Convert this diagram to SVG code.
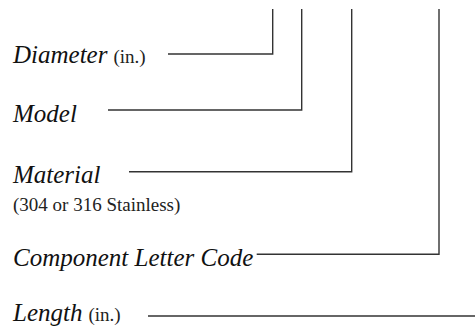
<svg xmlns="http://www.w3.org/2000/svg" width="475" height="333" viewBox="0 0 475 333">
  <style>
    .lbl { font-family: "Liberation Serif", "DejaVu Serif", serif; font-style: italic; font-size: 25px; fill: #111; }
    .sub { font-family: "Liberation Serif", "DejaVu Serif", serif; font-style: normal; font-size: 19px; fill: #222; }
    .lead { fill: none; stroke: #333; stroke-width: 1.4; }
  </style>
  <rect width="475" height="333" fill="#fff"/>

  <g id="diameter">
    <text class="lbl" x="13" y="62.7">Diameter<tspan class="sub" dx="6">(in.)</tspan></text>
  </g>
  <g id="model">
    <text class="lbl" x="13" y="122.3">Model</text>
  </g>
  <g id="material">
    <text class="lbl" x="13" y="182.7">Material</text>
    <text class="sub" x="13" y="210.7">(304 or 316 Stainless)</text>
  </g>
  <g id="component">
    <text class="lbl" x="13" y="265.5">Component Letter Code</text>
  </g>
  <g id="length">
    <text class="lbl" x="13" y="320.5">Length<tspan class="sub" dx="6">(in.)</tspan></text>
  </g>

  <g id="connectors">
    <polyline class="lead" points="168,54 272.7,54 272.7,9"/>
    <polyline class="lead" points="108,110 301.7,110 301.7,9"/>
    <polyline class="lead" points="129,171.7 351.7,171.7 351.7,9"/>
    <polyline class="lead" points="256.7,254.3 439,254.3 439,9"/>
    <line class="lead" x1="148" y1="316" x2="475" y2="316"/>
  </g>
</svg>
